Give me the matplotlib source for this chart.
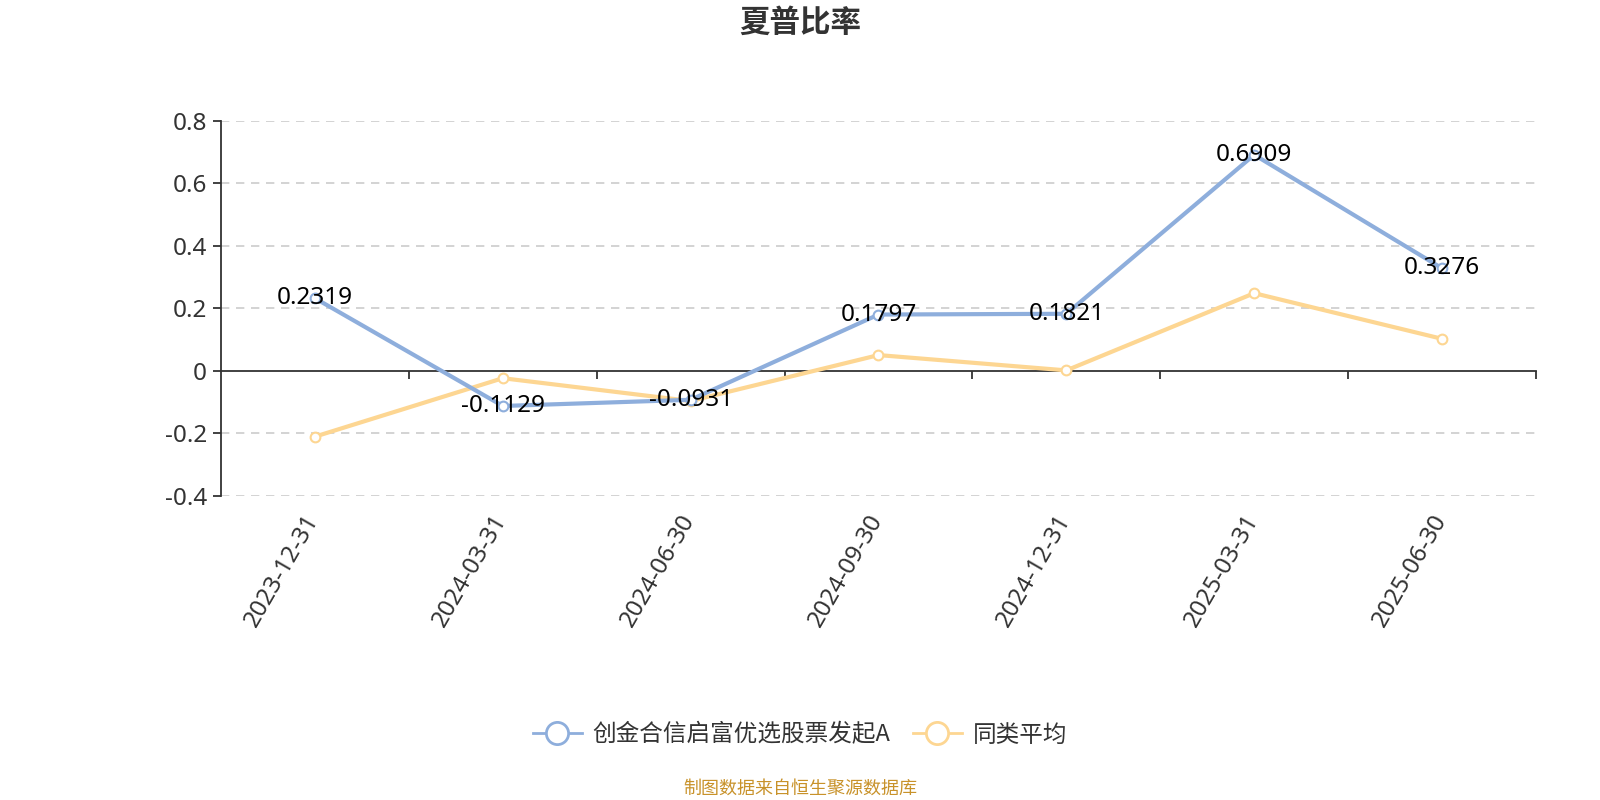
import matplotlib
matplotlib.use("Agg")
import matplotlib.pyplot as plt
from matplotlib.lines import Line2D
import matplotlib.transforms as mtransforms

plt.rcParams['font.family'] = ['Noto Sans', 'Noto Sans CJK SC', 'DejaVu Sans']

title = "夏普比率"
categories = ["2023-12-31", "2024-03-31", "2024-06-30", "2024-09-30",
              "2024-12-31", "2025-03-31", "2025-06-30"]
fund_name = "创金合信启富优选股票发起A"
fund_values = [0.2319, -0.1129, -0.0931, 0.1797, 0.1821, 0.6909, 0.3276]
avg_name = "同类平均"
avg_values = [-0.211, -0.024, -0.097, 0.050, 0.001, 0.248, 0.102]
y_ticks = [-0.4, -0.2, 0, 0.2, 0.4, 0.6, 0.8]
y_tick_labels = ["-0.4", "-0.2", "0", "0.2", "0.4", "0.6", "0.8"]
footer = "制图数据来自恒生聚源数据库"

blue = "#8eaedc"
yellow = "#fdd692"
axis_col = "#333333"
cjk = ['Noto Sans CJK SC', 'DejaVu Sans']

fig = plt.figure(figsize=(16, 8), dpi=100)
ax = fig.add_axes([221/1600, 1-495.7/800, (1536-221)/1600, (495.7-120.7)/800])

n = len(categories)
xs = list(range(n))
ax.set_xlim(-0.5, n - 0.5)
ax.set_ylim(-0.4, 0.8)

# grid
for t in y_ticks:
    if t != 0:
        ax.axhline(t, color="#cccccc", lw=1.2, ls=(0, (5, 4)), zorder=0)

ax.plot(xs, avg_values, color=yellow, lw=3, marker='o', ms=7,
        mfc='white', mec=yellow, mew=1.5, zorder=3, clip_on=False)
ax.plot(xs, fund_values, color=blue, lw=3, marker='o', ms=7,
        mfc='white', mec=blue, mew=1.5, zorder=4, clip_on=False)

offset = mtransforms.offset_copy(ax.transData, fig=fig, x=0, y=0, units='dots')
for x, v in zip(xs, fund_values):
    ax.text(x, v, f"{v:.4f}", ha='center', va='center', fontsize=17.5,
            color='black', transform=offset, zorder=5)

# spines
for s in ['top', 'right']:
    ax.spines[s].set_visible(False)
ax.spines['left'].set_color(axis_col)
ax.spines['left'].set_linewidth(1.3)
ax.spines['bottom'].set_position(('data', 0))
ax.spines['bottom'].set_color(axis_col)
ax.spines['bottom'].set_linewidth(1.3)

ax.set_yticks(y_ticks)
ax.set_yticklabels(y_tick_labels)
ax.tick_params(axis='y', length=6, width=1.3, color=axis_col, labelsize=17.5,
               labelcolor=axis_col, pad=4)
ax.set_xticks([i + 0.5 for i in range(n)])
ax.set_xticklabels([])
ax.tick_params(axis='x', length=6, width=1.3, color=axis_col, direction='out')

trans = mtransforms.blended_transform_factory(ax.transData, ax.transAxes)
trans = trans + mtransforms.ScaledTranslation(-1/100, -20/100, fig.dpi_scale_trans)
for x, c in zip(xs, categories):
    ax.text(x, 0, c, rotation=60, ha='right', va='center', rotation_mode='anchor',
            fontsize=17.3, color=axis_col, transform=trans)

fig.text(0.5, 1-22.5/800, title, ha='center', va='center', fontsize=22,
         fontweight='bold', color=axis_col, family=cjk)

handles = [
    Line2D([0], [0], color=blue, lw=2, marker='o', ms=16, mfc='white', mec=blue, mew=2),
    Line2D([0], [0], color=yellow, lw=2, marker='o', ms=16, mfc='white', mec=yellow, mew=2),
]
leg = fig.legend(handles, [fund_name, avg_name], loc='center', bbox_to_anchor=(0.5, 1-735/800),
                 ncol=2, frameon=False, handlelength=2.07, handletextpad=0.47,
                 columnspacing=0.93, prop={'family': ['Noto Sans CJK SC', 'DejaVu Sans'], 'size': 17})
for t in leg.get_texts():
    t.set_color(axis_col)

fig.text(0.5, 1-789/800, footer, ha='center', va='center', fontsize=13, color="#c8922a",
         family=cjk)

fig.savefig("out.png", dpi=100)
